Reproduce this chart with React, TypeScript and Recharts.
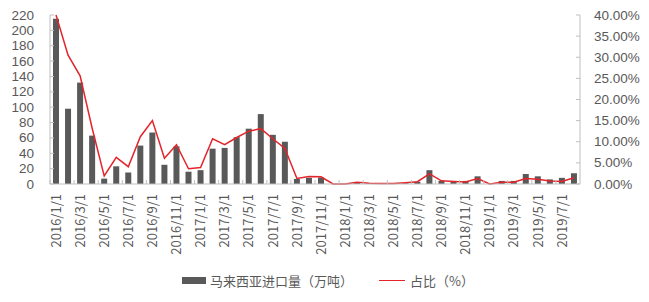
import { Bar, ComposedChart, Legend, Line, XAxis, YAxis } from "recharts";

const months = [
  "2016/1/1", "2016/2/1", "2016/3/1", "2016/4/1", "2016/5/1", "2016/6/1",
  "2016/7/1", "2016/8/1", "2016/9/1", "2016/10/1", "2016/11/1", "2016/12/1",
  "2017/1/1", "2017/2/1", "2017/3/1", "2017/4/1", "2017/5/1", "2017/6/1",
  "2017/7/1", "2017/8/1", "2017/9/1", "2017/10/1", "2017/11/1", "2017/12/1",
  "2018/1/1", "2018/2/1", "2018/3/1", "2018/4/1", "2018/5/1", "2018/6/1",
  "2018/7/1", "2018/8/1", "2018/9/1", "2018/10/1", "2018/11/1", "2018/12/1",
  "2019/1/1", "2019/2/1", "2019/3/1", "2019/4/1", "2019/5/1", "2019/6/1",
  "2019/7/1", "2019/8/1",
];

// 马来西亚进口量（万吨）
const importVolume = [
  215, 98, 132, 63, 7, 23, 15, 50, 67, 25, 49, 16,
  18, 46, 47, 61, 72, 91, 64, 55, 6.5, 8, 8.5, 0,
  0, 2, 1, 0, 0, 1, 3, 18, 4, 4, 4, 10,
  0, 4, 4, 13, 10, 6, 8, 14,
];

// 占比（%）
const share = [
  40, 30.5, 25.6, 13.2, 1.9, 6.3, 4.1, 11.2, 15.0, 6.1, 9.3, 3.6,
  3.9, 10.7, 9.3, 11.0, 12.5, 13.1, 10.7, 8.4, 1.3, 1.8, 1.7, 0,
  0, 0.4, 0.2, 0.1, 0.1, 0.3, 0.55, 2.4, 0.75, 0.6, 0.5, 1.3,
  0, 0.4, 0.4, 1.3, 1.1, 0.7, 0.6, 1.5,
];

const leftTicks = [0, 20, 40, 60, 80, 100, 120, 140, 160, 180, 200, 220];
const rightTicks = [0, 5, 10, 15, 20, 25, 30, 35, 40];

const data = months.map((m, i) => ({ month: m, volume: importVolume[i], share: share[i] }));

const FONT = '"Microsoft YaHei", "Noto Sans CJK SC", sans-serif';
const NUM_FONT = '"Liberation Sans", Arial, sans-serif';
const TEXT = "#595959";
const AXIS = "#bfbfbf";
const BAR = "#595959";
const RED = "#e3242b";

function LeftTick(props: any) {
  const { x, y, payload } = props;
  return (
    <g>
      <line x1={x + 16} x2={x + 20} y1={y} y2={y} stroke={AXIS} />
      <text x={x} y={y} dy={4.5} textAnchor="end" fill={TEXT} fontSize={13.5} fontFamily={NUM_FONT}>
        {payload.value}
      </text>
    </g>
  );
}

function RightTick(props: any) {
  const { x, y, payload } = props;
  return (
    <g>
      <line x1={x - 14} x2={x - 18} y1={y} y2={y} stroke={AXIS} />
      <text x={x} y={y} dy={4.5} textAnchor="start" fill={TEXT} fontSize={13.5} fontFamily={NUM_FONT}>
        {`${Number(payload.value).toFixed(2)}%`}
      </text>
    </g>
  );
}

function MonthTick(props: any) {
  const { x, y, payload, index } = props;
  if (index % 2 !== 0) return <g />;
  const ty = y + 10;
  return (
    <g>
      <line x1={x - 6} x2={x - 6} y1={y} y2={y - 4} stroke={AXIS} />
      <text
        x={x}
        y={ty}
        dy="0.36em"
        textAnchor="end"
        transform={`rotate(-90, ${x}, ${ty})`}
        fill={TEXT}
        fontSize={13}
        fontFamily={FONT}
      >
        {payload.value}
      </text>
    </g>
  );
}

function LegendBox() {
  return (
    <div style={{ display: "flex", alignItems: "center", fontFamily: FONT, fontSize: 13, color: TEXT, height: 19 }}>
      <span style={{ display: "inline-block", width: 24, height: 7, background: BAR, marginLeft: 182, marginRight: 4 }} />
      <span>马来西亚进口量（万吨）</span>
      <span style={{ display: "inline-block", width: 26, height: 1.5, background: RED, marginLeft: 26, marginRight: 5 }} />
      <span>占比（%）</span>
    </div>
  );
}

export default function App() {
  return (
    <div style={{ position: "absolute", left: 0, top: 0, width: 649, height: 302, background: "#fff" }}>
      <ComposedChart width={649} height={302} data={data} margin={{ top: 15, right: 9, bottom: 19, left: 10 }}>
        <XAxis
          dataKey="month"
          interval={0}
          tick={<MonthTick />}
          tickLine={false}
          tickSize={0}
          tickMargin={0}
          height={80}
          axisLine={{ stroke: AXIS }}
        />
        <YAxis
          yAxisId="left"
          domain={[0, 220]}
          ticks={leftTicks}
          interval={0}
          width={40}
          tickSize={0}
          tickMargin={16}
          tickLine={false}
          tick={<LeftTick />}
          axisLine={{ stroke: AXIS }}
        />
        <YAxis
          yAxisId="right"
          orientation="right"
          domain={[0, 40]}
          ticks={rightTicks}
          interval={0}
          width={60}
          tickSize={0}
          tickMargin={14}
          tickLine={false}
          tick={<RightTick />}
          axisLine={{ stroke: AXIS }}
        />
        <Legend content={<LegendBox />} wrapperStyle={{ left: 0, top: 271, width: 649 }} />
        <Bar yAxisId="left" dataKey="volume" fill={BAR} barSize={6} isAnimationActive={false} />
        <Line
          yAxisId="right"
          type="linear"
          dataKey="share"
          stroke={RED}
          strokeWidth={1.5}
          dot={false}
          activeDot={false}
          isAnimationActive={false}
        />
      </ComposedChart>
    </div>
  );
}
